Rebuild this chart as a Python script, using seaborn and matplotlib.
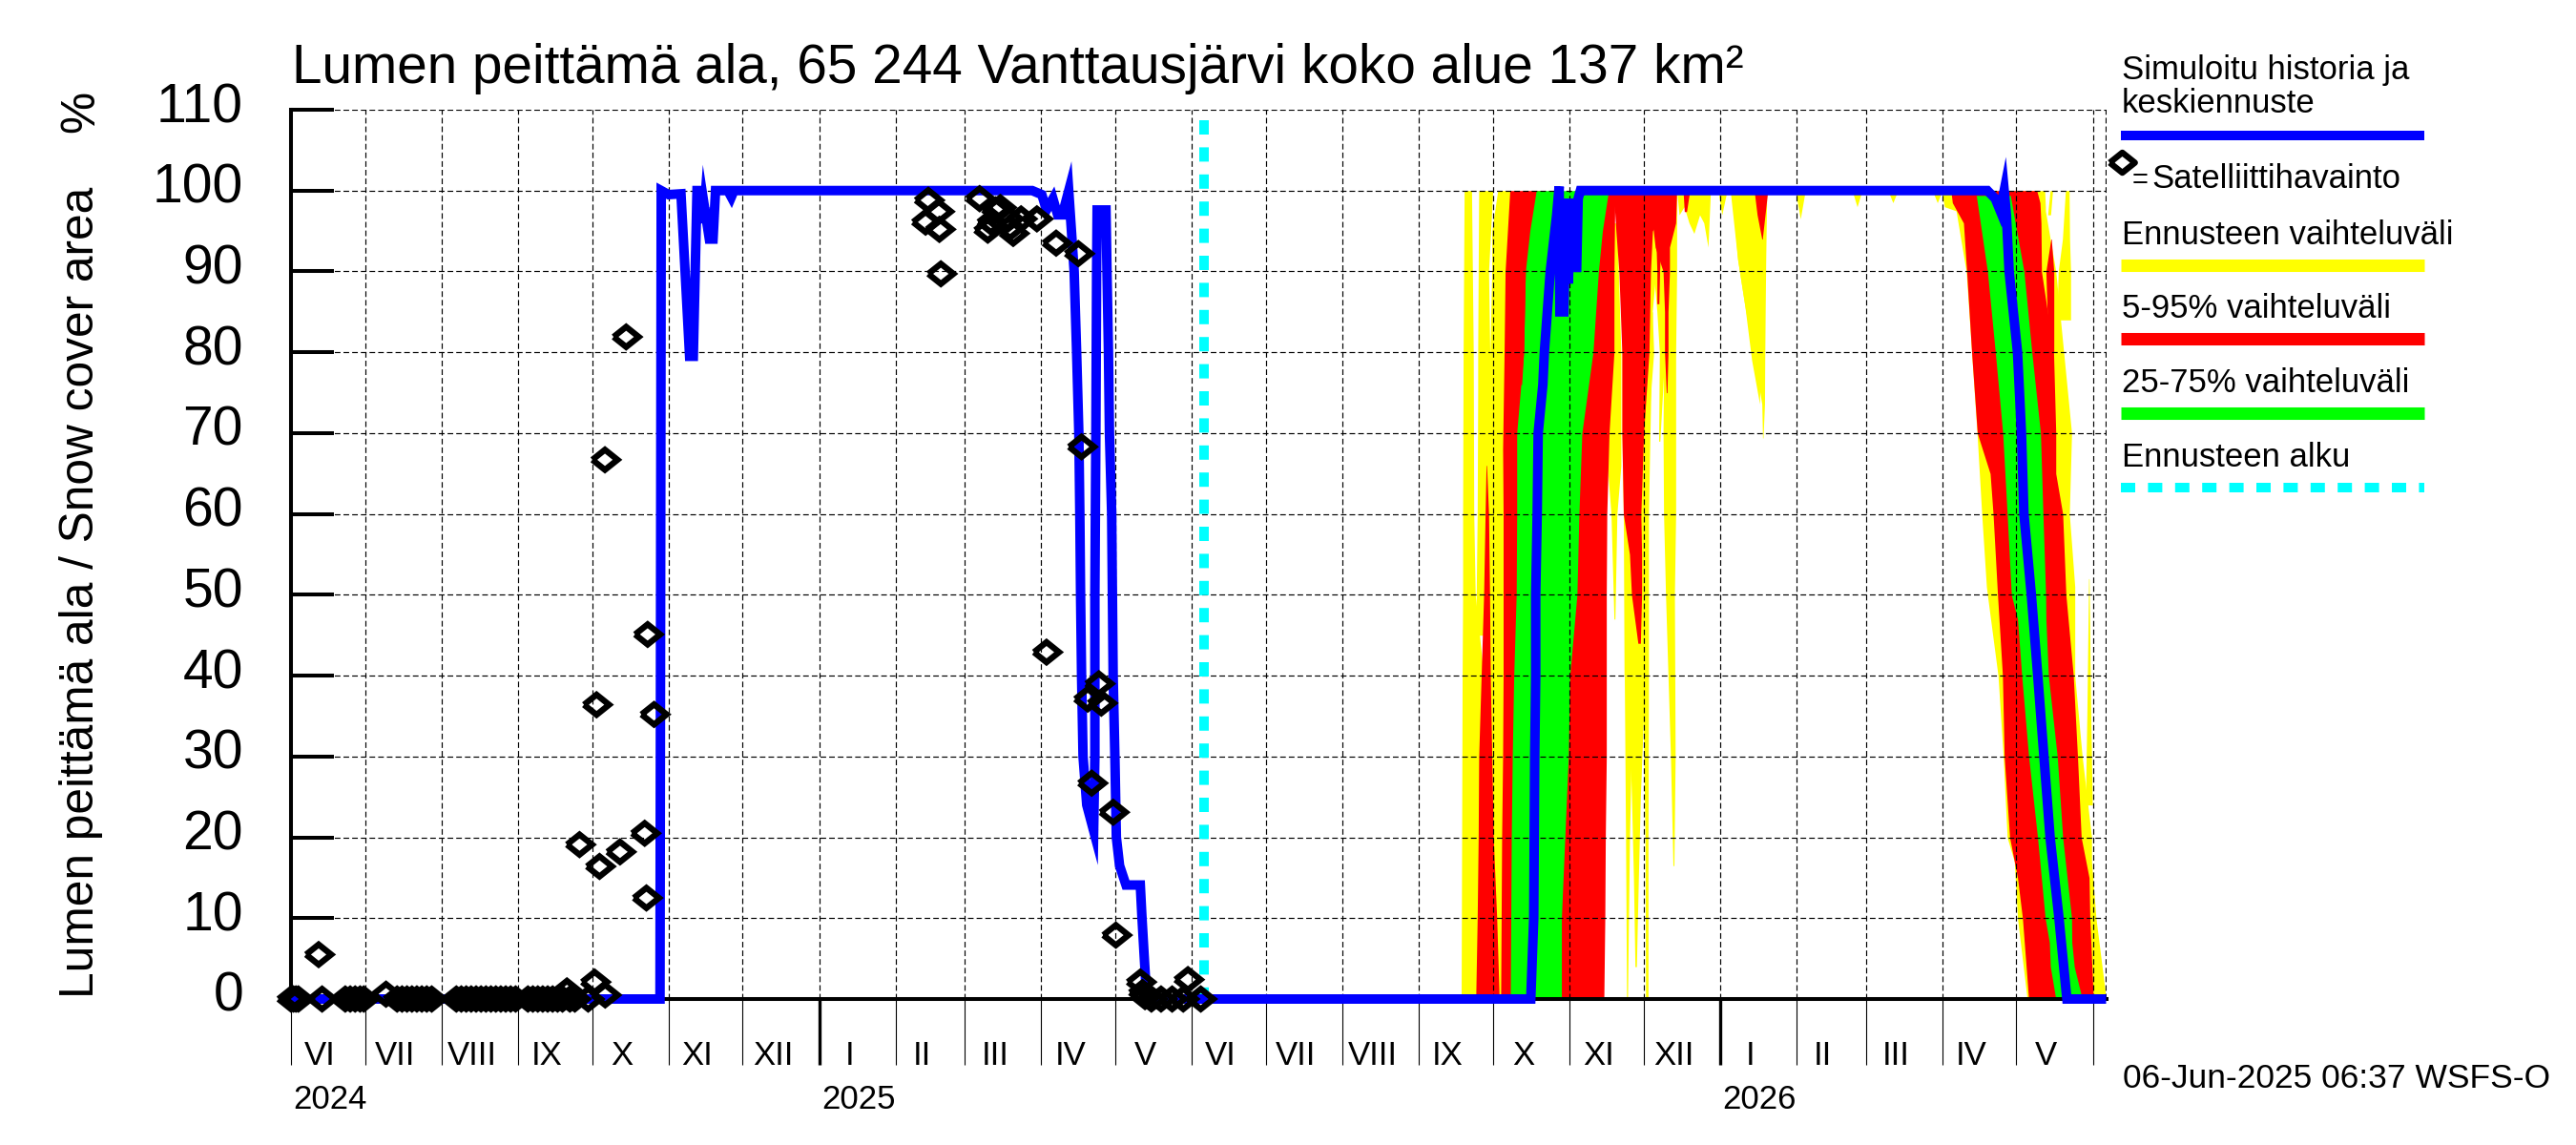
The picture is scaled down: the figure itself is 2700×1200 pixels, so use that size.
import matplotlib
matplotlib.use("Agg")
import matplotlib.pyplot as plt
from matplotlib.lines import Line2D
from matplotlib.markers import MarkerStyle
from matplotlib.transforms import ScaledTranslation, blended_transform_factory
import pandas as pd
import seaborn as sns

# all x values are days counted from 1 Jun 2024
START = pd.Timestamp("2024-06-01")
X_END = 735.4
FORECAST_START = 370

MONTH_LABELS = ["VI", "VII", "VIII", "IX", "X", "XI", "XII", "I", "II", "III", "IV", "V",
                "VI", "VII", "VIII", "IX", "X", "XI", "XII", "I", "II", "III", "IV", "V"]
YEAR_LABELS = [("2024", "2024-06-01"), ("2025", "2025-01-01"), ("2026", "2026-01-01")]
Y_TICKS = [0, 10, 20, 30, 40, 50, 60, 70, 80, 90, 100, 110]

# simulated history and mean forecast
line_days = [0, 149.5, 150, 153, 158, 161.5, 163, 164.5, 165.5, 167, 167.5, 169.5, 171, 172, 177, 178.4, 179.5,
             300.3, 304.2, 306.1, 308.7, 310.6, 312.5, 315.1, 317.3, 318.3, 319.2, 319.6, 319.9, 320.3, 320.9,
             322.4, 325.2, 325.7, 325.7, 326.1, 326.4, 326.6, 330.2, 330.6, 331.2, 331.6, 332.5, 332.8, 333.1, 333.8, 334.4,
             335.7, 338.3, 344.1, 344.7, 345.6, 346.7,
             502.3, 502.9, 503.5, 503.7, 503.9, 504.3, 504.3, 504.9, 505.3, 507.2, 507.8, 510.2, 512.8, 513.8,
             514.1, 515.7, 516.6, 517.5, 518.6, 519.6, 520.9, 521.5, 522.4, 523,
             687.3, 690.5, 692.5, 694.1, 695, 696.1, 699.5, 701.1, 702.1, 705.1, 707.7, 710.2, 712.7, 716.3,
             719.5, 735.4]
line_vals = [0, 0, 100, 99.5, 99.6, 79.5, 79.5, 100, 100, 96, 98, 94, 94, 100, 100, 99.2, 100,
             100, 99.5, 97.6, 99, 97, 97, 100, 90, 80, 70, 60, 50, 40, 30,
             24, 20.8, 30, 50, 70, 90, 97.6, 97.6, 90, 80, 70, 60, 50, 40, 30, 20,
             16.5, 14.1, 14.1, 10.5, 5.7, 0,
             0, 5, 10, 20, 30, 40, 50, 60, 70, 76, 80, 90, 97, 100.5,
             85, 85, 99, 88.5, 99, 90.5, 90.5, 99, 100, 100,
             100, 99, 97.5, 100, 97, 90, 80, 70, 60, 50, 40, 30, 20, 10,
             0, 0]

# satellite observations
obs_days = [0, 1, 2, 3, 11.2, 12.6, 22, 24, 26, 28, 29.5, 38.5, 43, 45, 47, 49, 51, 53, 55, 57,
            67, 69, 71, 73, 75, 77, 79, 81, 83, 85, 87, 89, 91, 96, 98, 100, 102, 104, 106, 108, 110, 111.8, 113, 115,
            116.9, 120.4, 123, 123.8, 125, 127.2, 127.3, 133.3, 135.8, 143.3, 144, 144.5, 147.1,
            258.2, 262.3, 257.1, 262.7, 263.3, 279, 282.3, 285.5, 283.6, 287.4, 290.6, 292.6, 295.8, 291.3, 302.2,
            310, 319, 320.3, 306.1, 327.3, 322.8, 328.3, 324.4, 333.1, 334.2, 344.1, 345, 346, 348.6, 352.5, 357,
            361.5, 363.4, 368.6]
obs_vals = [0, 0, 0, 0, 5.5, 0, 0, 0, 0, 0, 0, 0.6, 0, 0, 0, 0, 0, 0, 0, 0,
            0, 0, 0, 0, 0, 0, 0, 0, 0, 0, 0, 0, 0, 0, 0, 0, 0, 0, 0, 0, 0, 1, 0, 0,
            19.1, 0, 2.1, 36.4, 16.4, 66.7, 0.5, 18.2, 81.9, 20.5, 12.5, 45.1, 35.2,
            98.8, 97.4, 96.1, 95.2, 89.7, 99, 95.1, 97.6, 96.1, 97.9, 96.5, 94.7, 96.5, 95.4, 96.5,
            93.5, 92.2, 68.3, 42.9, 39, 37.1, 36.6, 26.7, 23.1, 7.9, 2.1, 0.8, 0.3, 0, 0, 0,
            0, 2.4, 0]

# yellow range, autumn 2025: each band is (levels, left days, right days)
yellow_a1 = ([0, 20, 40, 50, 60, 80, 100],
             [474.1, 474.3, 474.5, 474.7, 474.7, 474.9, 475.3],
             [483.6, 483.6, 483.2, 479.8, 479.2, 479.0, 478.3])
yellow_a2 = ([45, 60, 75, 80, 90, 100],
             [480.0, 480.6, 480.8, 480.8, 481.0, 481.2],
             [486.5, 486.5, 486.5, 485.7, 485.2, 486.9])
yellow_a3 = ([0, 78, 90, 95, 100],
             [485.6, 485.6, 486.5, 486.5, 488.9],
             [494.4, 494.4, 494.4, 494.4, 494.4])
yellow_a4 = ([47, 60, 66, 73, 80, 90, 96],
             [536, 534.8, 533.3, 532.9, 532.9, 532.9, 535.8],
             [536.4, 537.2, 538.8, 538.8, 538.8, 537.8, 537.2])
yellow_a5 = ([0, 20, 40], [541.1, 540.7, 540.2], [541.5, 542.3, 543.7])
yellow_a6 = ([4, 15, 25, 40], [544.5, 543.9, 543.1, 541.7], [545.1, 545.9, 546.7, 548.6])
yellow_a7 = ([0, 20, 40], [548.8, 548.6, 547.6], [549.8, 549.8, 550])
yellow_a8 = ([40, 60, 70, 85], [540.1, 539.8, 539.2, 539.2], [550, 550, 550.6, 551.6])
yellow_a9 = ([16.5, 30, 50, 60, 70, 80, 90, 100],
             [559.9, 558.9, 556.9, 556.1, 555.9, 556.1, 556.5, 558.5],
             [560.3, 560.8, 560.5, 561, 561, 561, 561.4, 561.4])
yellow_a10 = ([69, 80, 85, 90, 100],
              [548.6, 547.6, 549.6, 550.2, 550.6],
              [549.4, 552.1, 551.5, 553, 553])
yellow_a11 = ([69, 80, 85, 90, 100],
              [554.1, 554.4, 553.4, 552, 552],
              [554.6, 556.6, 556.6, 558.5, 558.5])

# yellow range, winter: lower edge under the 100 % line
winter_days = [561.4, 562.4, 564.4, 566.4, 568.4, 570.7, 572.4, 574.1, 575.1, 578.2, 579.7, 581.8, 583.8,
               586.1, 589.0, 591.8, 595.0, 596.0,
               609.5, 611.5, 613.5, 632.5, 634.5, 636.5, 647, 649, 651, 665, 667, 669]
winter_low = [100, 97, 98, 96, 94.7, 97, 96, 93, 100, 100, 97, 100, 100,
              91.5, 85.8, 79, 73.6, 100,
              100, 96.5, 100, 100, 98, 100, 100, 98.5, 100, 100, 98.5, 100]
yellow_a12 = ([69.4, 73.6, 79, 85.8, 91.5, 100],
              [596.2, 595.9, 593, 589, 586.1, 583.1],
              [596.4, 597, 597.1, 597.3, 597.5, 597.9])

# yellow range, spring 2026
yellow_s1 = ([0, 10, 17, 20, 30, 40, 50, 51, 60, 70, 90, 97.5, 98, 100],
             [703.4, 699.5, 698.2, 695.3, 693.7, 691.6, 687.3, 686.9, 685, 683.1, 678.7, 674.6, 669.9, 668.6],
             [735.4, 731.3, 729.5, 729.5, 725.7, 722.7, 722.7, 722.7, 720.5, 721.4, 715, 710.8, 710.8, 710.5])
yellow_s2 = ([97, 100], [711.7, 712.7], [712.9, 713.7])
yellow_s3 = ([84, 90, 94, 100], [715.4, 716, 717.7, 718.9], [721, 721, 720.6, 720.4])
yellow_s4 = ([24, 35, 52], [727, 727.6, 728.3], [729.8, 729.2, 728.5])

# 5-95 % range
red_a1 = ([0, 10, 20, 30, 40, 50, 60, 66],
          [480.0, 480.6, 481.0, 481.2, 482.2, 483.2, 483.8, 484.2],
          [489.5, 488.5, 487.1, 486.5, 485.9, 485.6, 485.2, 484.4])
red_a2 = ([0, 20, 30, 40, 60, 68, 80, 90, 100],
          [490.1, 490.5, 490.9, 491.1, 491.1, 490.9, 491.5, 491.9, 493.8],
          [501.3, 501.3, 501.3, 501.3, 501.3, 501.3, 501.3, 501.3, 506])
red_a3 = ([0, 10, 20, 30, 40, 50, 60, 70, 80, 90, 100],
          [513.2, 513.2, 514.1, 515.1, 516.1, 519.1, 520, 521, 525, 527, 530.9],
          [531.9, 532.3, 532.5, 532.9, 532.9, 532.9, 533.1, 534, 536, 536, 536.4])
red_a4 = ([44, 50, 55, 60, 70, 80, 90, 95, 100],
          [545.7, 543.1, 542.3, 539.8, 539.2, 539.2, 538, 536.8, 535.8],
          [546.7, 547.2, 547.2, 546.9, 548, 550.2, 550.8, 551.6, 561.4])
red_a5 = ([75, 80, 85, 90, 93, 96, 100],
          [557.2, 556.5, 556.5, 555.9, 552.7, 551.6, 551.6],
          [557.5, 557.9, 557.9, 558.5, 558.5, 561, 561.4])
red_a6 = ([76, 80, 90, 95],
          [498.2, 497.4, 497, 497],
          [498.6, 499.4, 500.1, 499.4])
red_a7 = ([86, 90, 94], [553.4, 553.4, 553], [554.2, 554.5, 555])
red_w1 = ([97.4, 100], [564.5, 564], [565.4, 566.7])
red_w2 = ([94, 97, 100], [595.9, 594, 592.8], [596.1, 597.2, 598.3])
red_s1 = ([0, 10, 15, 20, 30, 40, 50, 60, 65, 70, 80, 90, 96, 98.5, 100],
          [704, 701.5, 699.5, 696.3, 694.1, 693.4, 691.4, 689.6, 688.4, 683.2, 680.9, 678.9, 677.6, 673.1, 672.5],
          [730.2, 728.8, 728.5, 725.3, 723.8, 722.1, 719.1, 717.8, 715, 715, 714.1, 709.2, 709, 708.6, 707.3])
red_s2 = ([80, 85, 90, 94], [712, 711.5, 711, 713], [714.2, 714.2, 714.2, 713.2])

# 25-75 % range
green_a1 = ([0, 10, 20, 30, 40, 50, 60, 70, 80, 90, 95, 100],
            [494, 494.2, 494.4, 494.8, 495.4, 496.4, 496.6, 496.6, 499.4, 500.1, 501.9, 504.5],
            [514.7, 514.7, 516.1, 517.5, 518.1, 521, 521.8, 523, 527.5, 529.7, 531.3, 533.8])
green_s1 = ([0, 4, 7, 10, 20, 30, 40, 47, 50, 60, 70, 80, 90, 99.4],
            [715, 712.8, 712.4, 710.7, 707.6, 704, 701.2, 699.5, 697, 695.3, 693.5, 690.5, 687.3, 682.8],
            [725.7, 722.5, 721.5, 721.4, 717.8, 715.6, 712, 711, 710.9, 709.8, 708.8, 705.3, 702.1, 696.6])

YELLOW_BANDS = [yellow_a1, yellow_a2, yellow_a3, yellow_a4, yellow_a5, yellow_a6, yellow_a7, yellow_a8,
                yellow_a9, yellow_a10, yellow_a11, yellow_a12, yellow_s1, yellow_s2, yellow_s3, yellow_s4]
RED_BANDS = [red_a1, red_a2, red_a3, red_a4, red_a5, red_a7, red_w1, red_w2, red_s1, red_s2]
GREEN_BANDS = [green_a1, green_s1]


def to_dates(days):
    return START + pd.to_timedelta(pd.Series(days, dtype=float), unit="D")


def draw_bands(ax, bands, color, zorder):
    for levels, left, right in bands:
        ax.fill_betweenx(levels, to_dates(left), to_dates(right), color=color, linewidth=0, zorder=zorder)


def px_x(x):
    return x / 2700


def px_y(y):
    return 1 - y / 1200


def legend_text(fig, x, y, s, size=25):
    fig.text(px_x(x), px_y(y), s, fontsize=size, va="baseline", ha="left")


def legend_bar(fig, y, color, width, **kws):
    fig.add_artist(Line2D([px_x(2223), px_x(2541)], [px_y(y), px_y(y)], transform=fig.transFigure,
                          color=color, linewidth=width, solid_capstyle="butt", **kws))


sns.set_style("white")
plt.rcParams["font.family"] = ["Liberation Sans", "DejaVu Sans"]
plt.rcParams["text.color"] = "black"
plt.rcParams["ytick.labelcolor"] = "black"

fig = plt.figure(figsize=(27, 12), dpi=100)
ax = fig.add_axes([px_x(305), px_y(1047), px_x(2207.5 - 305), (1047 - 115) / 1200])

# forecast ranges
draw_bands(ax, YELLOW_BANDS, "#ffff00", 1.0)
ax.fill_between(to_dates(winter_days), winter_low, 100, color="#ffff00", linewidth=0, zorder=1.0)
draw_bands(ax, RED_BANDS, "#ff0000", 1.1)
draw_bands(ax, GREEN_BANDS, "#00ff00", 1.2)
draw_bands(ax, [red_a6], "#ff0000", 1.3)

# history and mean forecast
line_df = pd.DataFrame({"date": to_dates(line_days), "value": line_vals})
sns.lineplot(data=line_df, x="date", y="value", ax=ax, color="#0000ff", linewidth=7.2, estimator=None, sort=False,
             errorbar=None, solid_joinstyle="miter", solid_capstyle="butt", clip_on=False, zorder=3)

# start of forecast
ax.plot(to_dates([FORECAST_START, FORECAST_START]), [108.7, 0], color="#00ffff", linewidth=7.2,
        linestyle=(0, (1.5, 1.34)), dash_capstyle="butt", zorder=2.8)

# satellite observations
diamond = MarkerStyle([(-1, 0), (0, 0.8), (1, 0), (0, -0.8), (-1, 0)], joinstyle="miter")
obs_df = pd.DataFrame({"date": to_dates(obs_days), "value": obs_vals})
sns.scatterplot(data=obs_df, x="date", y="value", ax=ax, marker=diamond, s=360, facecolor="none",
                edgecolor="black", linewidth=4.6, clip_on=False, zorder=4)
ax.collections[-1].set_joinstyle("miter")

ax.set_xlim(START, START + pd.Timedelta(days=X_END))
ax.set_ylim(0, 110)
ax.set_xlabel("")
ax.set_ylabel("")

# ticks and grid
month_ticks = pd.date_range("2024-06-01", "2026-06-01", freq="MS")
year_ticks = pd.to_datetime(["2025-01-01", "2026-01-01"])
ax.set_xticks(year_ticks)
ax.set_xticks(month_ticks, minor=True)
ax.set_xticklabels([])
ax.set_yticks(Y_TICKS)
ax.set_yticklabels([str(v) for v in Y_TICKS], fontsize=41)
ax.tick_params(axis="y", which="major", direction="in", length=32.4, width=2.9, color="black", pad=36, left=True)
ax.tick_params(axis="x", which="major", direction="out", length=50, width=2.4, color="black", bottom=True)
ax.tick_params(axis="x", which="minor", direction="out", length=50, width=0.8, color="black", bottom=True)
label_shift = ScaledTranslation(0, 8 / 100, fig.dpi_scale_trans)
for label in ax.get_yticklabels():
    label.set_transform(label.get_transform() + label_shift)
ax.set_axisbelow("line")
ax.grid(True, which="both", axis="x", color="black", linewidth=0.85, linestyle=(0, (5, 2.7)))
ax.grid(True, which="major", axis="y", color="black", linewidth=0.85, linestyle=(0, (5, 2.7)))
ax.axvline(START + pd.Timedelta(days=X_END), color="black", linewidth=0.85, linestyle=(0, (5, 2.7)), zorder=1.5)

sns.despine(ax=ax, top=True, right=True)
ax.spines["left"].set_color("black")
ax.spines["left"].set_linewidth(2.9)
ax.spines["bottom"].set_color("black")
ax.spines["bottom"].set_linewidth(2.9)

# month and year names under the axis
trans = blended_transform_factory(ax.transData, fig.transFigure)
label_nudge = pd.Timedelta(days=3.3)
for label, left, right in zip(MONTH_LABELS, month_ticks[:-1], month_ticks[1:]):
    ax.text(left + (right - left) / 2 - label_nudge, px_y(1107), label, transform=trans, fontsize=25,
            ha="center", va="center")
for label, when in YEAR_LABELS:
    ax.text(pd.Timestamp(when) + pd.Timedelta(days=1), px_y(1153), label, transform=trans, fontsize=25,
            ha="left", va="center")

# title and axis captions
fig.text(px_x(306), px_y(87), "Lumen peittämä ala, 65 244 Vanttausjärvi koko alue 137 km²", fontsize=40.9,
         ha="left", va="baseline")
fig.text(px_x(85), px_y(621), "Lumen peittämä ala / Snow cover area", fontsize=35.7, rotation=90,
         ha="center", va="center")
fig.text(px_x(85), px_y(117), "%", fontsize=35.7, rotation=90, ha="center", va="center")
fig.text(px_x(2225), px_y(1130), "06-Jun-2025 06:37 WSFS-O", fontsize=25.5, ha="left", va="center")

# legend on the right
legend_text(fig, 2224, 83, "Simuloitu historia ja")
legend_text(fig, 2224, 118, "keskiennuste")
legend_bar(fig, 142, "#0000ff", 7.2)
fig.add_artist(Line2D([px_x(2224)], [px_y(170)], transform=fig.transFigure, marker=diamond, markersize=19,
                      markerfacecolor="none", markeredgecolor="black", markeredgewidth=4.6, linestyle="none"))
legend_text(fig, 2235, 197, "=", size=21)
legend_text(fig, 2255, 197, "Satelliittihavainto")
legend_text(fig, 2224, 256, "Ennusteen vaihteluväli")
legend_bar(fig, 277.5, "#ffff00", 9.4)
legend_text(fig, 2224, 333, "5-95% vaihteluväli")
legend_bar(fig, 355, "#ff0000", 9.4)
legend_text(fig, 2224, 411, "25-75% vaihteluväli")
legend_bar(fig, 433, "#00ff00", 9.4)
legend_text(fig, 2224, 489, "Ennusteen alku")
legend_bar(fig, 511, "#00ffff", 7.2, linestyle=(0, (1.5, 1.34)), dash_capstyle="butt")

plt.savefig("out.png", dpi=100)
plt.close()
